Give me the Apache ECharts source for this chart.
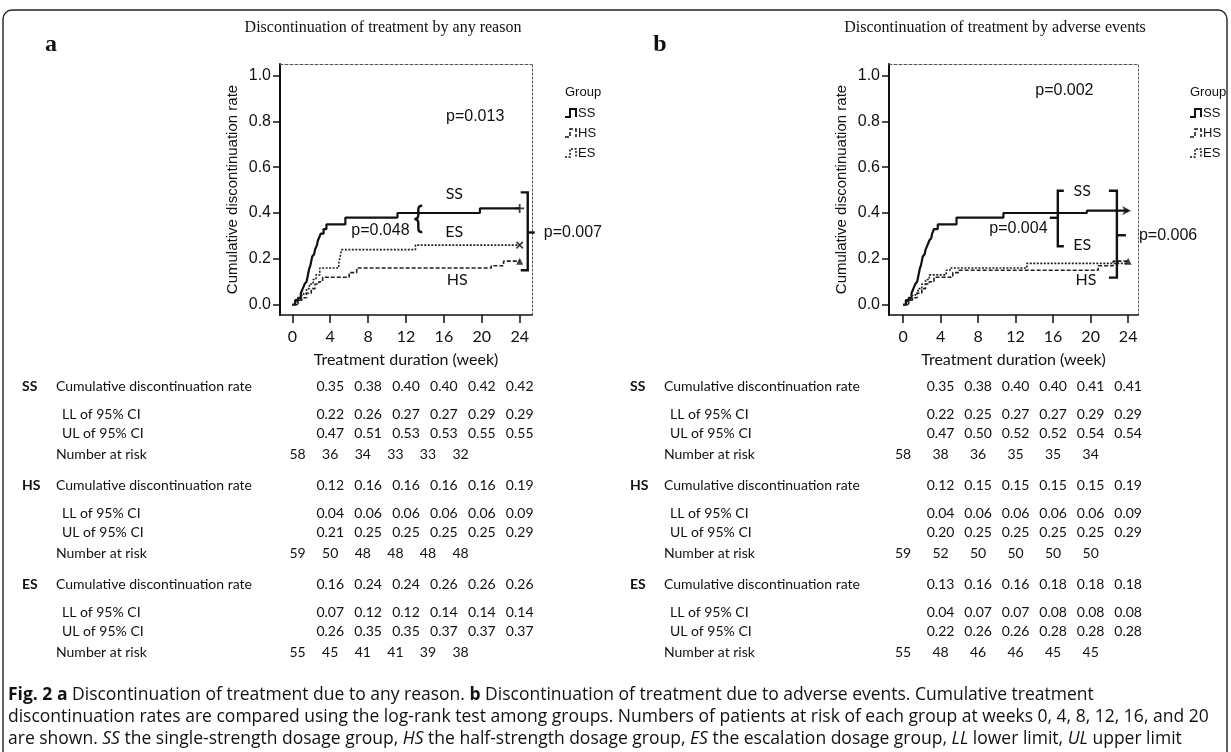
<!DOCTYPE html>
<html>
<head>
<meta charset="utf-8">
<script src="https://cdn.jsdelivr.net/npm/echarts@6/dist/echarts.min.js"></script>
<style>
html,body{margin:0;padding:0;background:#fff;}
#c{width:1231px;height:752px;}
</style>
</head>
<body>
<div id="c"></div>
<script>
// ---- axes ----
const weekTicks = [0, 4, 8, 12, 16, 20, 24];
const tableWeeks = [4, 8, 12, 16, 20, 24];
const riskWeeks = [0, 4, 8, 12, 16, 20];
const rateTicks = [0, 0.2, 0.4, 0.6, 0.8, 1.0];
const groups = ['SS', 'HS', 'ES'];
const rowLabels = ['Cumulative discontinuation rate', 'LL of 95% CI', 'UL of 95% CI', 'Number at risk'];

// ---- cumulative discontinuation, any reason: [week, rate] ----
const anySS = [[0,0],[0.3,0.02],[0.6,0.03],[0.9,0.05],[1.1,0.07],[1.3,0.09],[1.5,0.10],[1.6,0.12],[1.7,0.14],[1.8,0.16],[1.9,0.17],[2.0,0.19],[2.1,0.21],[2.3,0.22],[2.4,0.24],[2.6,0.26],[2.7,0.28],[2.8,0.29],[3.0,0.31],[3.3,0.33],[3.6,0.35],[5.6,0.38],[11.1,0.40],[19.8,0.42],[24,0.42]];
const anyHS = [[0,0],[0.6,0.02],[1.0,0.03],[1.5,0.05],[2.0,0.07],[2.4,0.09],[2.8,0.10],[3.2,0.12],[6.0,0.14],[6.8,0.16],[21.0,0.17],[22.3,0.19],[24,0.19]];
const anyES = [[0,0],[0.5,0.02],[0.9,0.04],[1.2,0.05],[1.5,0.07],[1.8,0.09],[2.2,0.11],[2.5,0.13],[2.9,0.16],[4.9,0.18],[5.0,0.20],[5.1,0.22],[5.2,0.24],[13.0,0.26],[24,0.26]];

// ---- cumulative discontinuation, adverse events: [week, rate] ----
const aeSS = [[0,0],[0.3,0.02],[0.6,0.03],[0.9,0.05],[1.1,0.07],[1.3,0.09],[1.5,0.10],[1.6,0.12],[1.7,0.14],[1.8,0.16],[1.9,0.17],[2.0,0.19],[2.1,0.21],[2.3,0.22],[2.4,0.24],[2.6,0.26],[2.8,0.28],[3.0,0.29],[3.1,0.31],[3.3,0.33],[3.7,0.35],[5.7,0.38],[10.7,0.40],[19.6,0.41],[24,0.41]];
const aeHS = [[0,0],[0.6,0.02],[1.0,0.03],[1.5,0.05],[2.0,0.07],[2.4,0.09],[2.8,0.10],[3.3,0.12],[5.3,0.14],[6.0,0.15],[20.8,0.17],[22.4,0.19],[24,0.19]];
const aeES = [[0,0],[0.5,0.02],[0.9,0.04],[1.3,0.05],[1.6,0.07],[2.0,0.09],[2.4,0.11],[2.8,0.13],[4.6,0.15],[5.0,0.16],[13.2,0.18],[24,0.18]];

// ---- tables, rows in group order SS, HS, ES ----
const anyRate = [[0.35,0.38,0.40,0.40,0.42,0.42],[0.12,0.16,0.16,0.16,0.16,0.19],[0.16,0.24,0.24,0.26,0.26,0.26]];
const anyLL   = [[0.22,0.26,0.27,0.27,0.29,0.29],[0.04,0.06,0.06,0.06,0.06,0.09],[0.07,0.12,0.12,0.14,0.14,0.14]];
const anyUL   = [[0.47,0.51,0.53,0.53,0.55,0.55],[0.21,0.25,0.25,0.25,0.25,0.29],[0.26,0.35,0.35,0.37,0.37,0.37]];
const anyRisk = [[58,36,34,33,33,32],[59,50,48,48,48,48],[55,45,41,41,39,38]];
const aeRate  = [[0.35,0.38,0.40,0.40,0.41,0.41],[0.12,0.15,0.15,0.15,0.15,0.19],[0.13,0.16,0.16,0.18,0.18,0.18]];
const aeLL    = [[0.22,0.25,0.27,0.27,0.29,0.29],[0.04,0.06,0.06,0.06,0.06,0.09],[0.04,0.07,0.07,0.08,0.08,0.08]];
const aeUL    = [[0.47,0.50,0.52,0.52,0.54,0.54],[0.20,0.25,0.25,0.25,0.25,0.29],[0.22,0.26,0.26,0.28,0.28,0.28]];
const aeRisk  = [[58,38,36,35,35,34],[59,52,50,50,50,50],[55,48,46,46,45,45]];

const INK = '#111';
const SANS = 'Liberation Sans';
const HUM = 'Lato';
const CAP = 'Open Sans';
const SERIF = 'Liberation Serif';

const panels = [
  {grid: {left: 280, top: 64, width: 252, height: 251}, xr: [-1.3, 25.3],
   curves: [anySS, anyHS, anyES], rate: anyRate, ll: anyLL, ul: anyUL, risk: anyRisk,
   title: 'Discontinuation of treatment by any reason', titleX: 383, letter: 'a', letterX: 51,
   legendX: 565, tableX: 0, riskPitch: 0.86,
   notes: {
     texts: [
       {t: 'p=0.013', at: [19.3, 0.82], f: SANS, s: 16},
       {t: 'SS', at: [17.1, 0.483], f: HUM, s: 16},
       {t: 'ES', at: [17.1, 0.316], f: HUM, s: 16},
       {t: 'HS', at: [17.4, 0.11], f: HUM, s: 16},
       {t: 'p=0.048', at: [9.3, 0.323], f: SANS, s: 16}
     ],
     brackets: [{x: 24.85, y1: 0.49, y2: 0.15, tick: -7, mid: 0.315, midTick: 7, label: 'p=0.007', gap: 9}],
     braces: [{x: 13.3, y1: 0.432, y2: 0.316}]
   },
   ends: [{sym: 'plus'}, {sym: 'triangle'}, {sym: 'cross'}]},
  {grid: {left: 889, top: 64, width: 249, height: 251}, xr: [-1.5, 25.05],
   curves: [aeSS, aeHS, aeES], rate: aeRate, ll: aeLL, ul: aeUL, risk: aeRisk,
   title: 'Discontinuation of treatment by adverse events', titleX: 995, letter: 'b', letterX: 660,
   legendX: 1190, tableX: 608, riskPitch: 1,
   notes: {
     texts: [
       {t: 'p=0.002', at: [17.2, 0.935], f: SANS, s: 16},
       {t: 'SS', at: [19.1, 0.497], f: HUM, s: 16},
       {t: 'ES', at: [19.1, 0.26], f: HUM, s: 16},
       {t: 'HS', at: [19.5, 0.11], f: HUM, s: 16},
       {t: 'p=0.004', at: [12.3, 0.33], f: SANS, s: 16}
     ],
     brackets: [
       {x: 16.5, y1: 0.497, y2: 0.255, tick: 6, mid: 0.379, midTick: -8},
       {x: 22.8, y1: 0.497, y2: 0.118, tick: -8, mid: 0.303, midTick: 9, label: 'p=0.006', gap: 13}
     ],
     braces: []
   },
   ends: [{sym: 'arrow'}, {sym: 'triangle'}, null]}
];

const yr = [-0.045, 1.05];
const lineStyles = [
  {color: INK, width: 2.2, type: 'solid'},
  {color: '#222', width: 1.6, type: [4, 2]},
  {color: '#222', width: 1.6, type: [2, 1.5]}
];
const endSymbols = {
  plus: 'path://M4,0h2v4h4v2h-4v4h-2v-4h-4v-2h4z',
  cross: 'path://M4,0h2v4h4v2h-4v4h-2v-4h-4v-2h4z',
  triangle: 'triangle',
  arrow: 'arrow'
};

const xAxes = [], yAxes = [], series = [];
panels.forEach((p, i) => {
  xAxes.push({
    type: 'value', gridIndex: i, min: p.xr[0], max: p.xr[1], position: 'bottom',
    axisLine: {show: true, onZero: false, lineStyle: {color: INK, width: 1.5}},
    axisTick: {show: true, length: 8, customValues: weekTicks, lineStyle: {color: INK, width: 1.5}},
    axisLabel: {customValues: weekTicks, margin: 14, fontFamily: HUM, fontSize: 16, color: INK},
    splitLine: {show: false},
    name: 'Treatment duration (week)', nameLocation: 'middle', nameGap: 37,
    nameTextStyle: {fontFamily: HUM, fontSize: 16, color: INK}
  });
  xAxes.push({
    type: 'value', gridIndex: i, min: p.xr[0], max: p.xr[1], position: 'top',
    axisLine: {show: true, onZero: false, lineStyle: {color: '#555', width: 1, type: [3, 2]}},
    axisTick: {show: false}, axisLabel: {show: false}, splitLine: {show: false}
  });
  yAxes.push({
    type: 'value', gridIndex: i, min: yr[0], max: yr[1], position: 'left',
    axisLine: {show: true, onZero: false, lineStyle: {color: INK, width: 2}},
    axisTick: {show: true, length: 7, customValues: rateTicks, lineStyle: {color: INK, width: 1.5}},
    axisLabel: {customValues: rateTicks, margin: 9, fontFamily: SANS, fontSize: 16, color: INK,
                formatter: v => v.toFixed(1)},
    splitLine: {show: false},
    name: 'Cumulative discontinuation rate', nameLocation: 'middle', nameGap: 40,
    nameTextStyle: {fontFamily: SANS, fontSize: 15, color: INK}
  });
  yAxes.push({
    type: 'value', gridIndex: i, min: yr[0], max: yr[1], position: 'right',
    axisLine: {show: true, onZero: false, lineStyle: {color: '#555', width: 1, type: [2, 2]}},
    axisTick: {show: false}, axisLabel: {show: false}, splitLine: {show: false}
  });
  const xi = i * 2, yi = i * 2;
  p.curves.forEach((c, g) => {
    series.push({
      type: 'line', name: groups[g], xAxisIndex: xi, yAxisIndex: yi, step: 'end',
      data: c, symbol: 'none', lineStyle: lineStyles[g], z: 3, silent: true
    });
    const e = p.ends[g];
    if (e) {
      const last = c[c.length - 1];
      series.push({
        type: 'scatter', xAxisIndex: xi, yAxisIndex: yi, data: [last], silent: true, z: 4,
        symbol: endSymbols[e.sym],
        symbolSize: e.sym === 'arrow' ? [7, 9] : (e.sym === 'triangle' ? 7 : 9),
        symbolRotate: e.sym === 'cross' ? 45 : (e.sym === 'arrow' ? -90 : 0),
        symbolOffset: e.sym === 'arrow' ? [3, 0] : [0, 0],
        itemStyle: {color: INK}
      });
    }
  });
  // annotations: p-values, group labels, brackets
  const notes = p.notes;
  series.push({
    type: 'custom', xAxisIndex: xi, yAxisIndex: yi, data: [[0, 0]], clip: false, silent: true, z: 6,
    renderItem(params, api) {
      const kids = [];
      const stroke = {stroke: INK, lineWidth: 2.4, fill: null};
      notes.texts.forEach(t => {
        const pt = api.coord(t.at);
        kids.push({type: 'text', x: pt[0], y: pt[1], style: {
          text: t.t, fontFamily: t.f, fontSize: t.s, fill: INK,
          align: 'center', verticalAlign: 'middle', textAlign: 'center', textVerticalAlign: 'middle'}});
      });
      notes.brackets.forEach(b => {
        const top = api.coord([b.x, b.y1]), bot = api.coord([b.x, b.y2]), m = api.coord([b.x, b.mid]);
        kids.push({type: 'polyline', shape: {points: [[top[0] + b.tick, top[1]], top, bot, [bot[0] + b.tick, bot[1]]]}, style: stroke});
        kids.push({type: 'line', shape: {x1: m[0], y1: m[1], x2: m[0] + b.midTick, y2: m[1]}, style: stroke});
        if (b.label) {
          kids.push({type: 'text', x: m[0] + b.midTick + b.gap, y: m[1], style: {
            text: b.label, fontFamily: SANS, fontSize: 16, fill: INK,
            align: 'left', verticalAlign: 'middle', textAlign: 'left', textVerticalAlign: 'middle'}});
        }
      });
      notes.braces.forEach(b => {
        const top = api.coord([b.x, b.y1]), bot = api.coord([b.x, b.y2]);
        const x = top[0], y0 = top[1], y1 = bot[1], ym = (y0 + y1) / 2, w = 4;
        const d = `M${x + w},${y0} Q${x},${y0} ${x},${y0 + w} L${x},${ym - w} Q${x},${ym} ${x - w},${ym} ` +
                  `Q${x},${ym} ${x},${ym + w} L${x},${y1 - w} Q${x},${y1} ${x + w},${y1}`;
        kids.push({type: 'path', shape: {pathData: d}, style: stroke});
      });
      return {type: 'group', children: kids};
    }
  });
});

const chart = echarts.init(document.getElementById('c'));
chart.setOption({
  animation: false,
  backgroundColor: '#fff',
  grid: panels.map(p => Object.assign({containLabel: false}, p.grid)),
  xAxis: xAxes,
  yAxis: yAxes,
  series: series
});

// ---- text furniture: frame, titles, legends, tables, caption ----
function txt(x, y, text, font, align, extra) {
  return {type: 'text', x: x, y: y, silent: true, style: Object.assign({
    text: text, font: font, fill: INK,
    align: align || 'left', verticalAlign: 'middle',
    textAlign: align || 'left', textVerticalAlign: 'middle'
  }, extra || {})};
}

const g = [];
g.push({type: 'rect', silent: true, shape: {x: 3, y: 10, width: 1224, height: 760, r: 9},
        style: {fill: null, stroke: '#222', lineWidth: 1.4}});

const blockY = [386, 485, 584];
const rowDy = [0, 28.5, 47, 68];

panels.forEach((p, i) => {
  const xi = i * 2;
  g.push(txt(p.titleX, 28, p.title, '16px ' + SERIF, 'center'));
  g.push(txt(p.letterX, 45, p.letter, 'bold 24px ' + SERIF, 'center'));

  // legend
  const lx = p.legendX;
  g.push(txt(lx, 92, 'Group', '13px ' + SANS, 'left'));
  groups.forEach((name, k) => {
    const y = 113 + k * 20;
    const ls = lineStyles[k];
    g.push({type: 'polyline', silent: true,
      shape: {points: [[lx, y + 4], [lx + 5, y + 4], [lx + 5, y - 4], [lx + 11, y - 4], [lx + 11, y + 4]]},
      style: {stroke: INK, lineWidth: k === 0 ? 2 : 1.5, fill: null, lineDash: k === 0 ? null : ls.type}});
    g.push(txt(lx + 13, y, name, '13px ' + SANS, 'left'));
  });

  // table of rates and numbers at risk
  const rateX = tableWeeks.map(w => chart.convertToPixel({xAxisIndex: xi}, w));
  const x0 = chart.convertToPixel({xAxisIndex: xi}, 0);
  const step = (rateX[0] - x0) * p.riskPitch;
  const riskX = riskWeeks.map((w, k) => rateX[0] + (k - 1) * step);
  const tx = p.tableX;
  const rows = [p.rate, p.ll, p.ul];
  groups.forEach((name, k) => {
    const by = blockY[k];
    g.push(txt(tx + 22, by, name, 'bold 14px ' + HUM, 'left'));
    g.push(txt(tx + 56, by + rowDy[0], rowLabels[0], '14px ' + HUM, 'left'));
    g.push(txt(tx + 62, by + rowDy[1], rowLabels[1], '14px ' + HUM, 'left'));
    g.push(txt(tx + 62, by + rowDy[2], rowLabels[2], '14px ' + HUM, 'left'));
    g.push(txt(tx + 56, by + rowDy[3], rowLabels[3], '14px ' + HUM, 'left'));
    rows.forEach((vals, r) => {
      vals[k].forEach((v, c) => g.push(txt(rateX[c], by + rowDy[r], v.toFixed(2), '14px ' + HUM, 'center')));
    });
    p.risk[k].forEach((v, c) => g.push(txt(riskX[c], by + rowDy[3], String(v), '14px ' + HUM, 'center')));
  });
});

// caption
const CAP_SIZE = 17.5;
const capRich = {
  b: {fontFamily: CAP, fontSize: CAP_SIZE, fontWeight: 'bold', fill: INK},
  i: {fontFamily: CAP, fontSize: CAP_SIZE, fontStyle: 'italic', fill: INK},
  n: {fontFamily: CAP, fontSize: CAP_SIZE, fill: INK}
};
const capLines = [
  '{b|Fig. 2 a}{n| Discontinuation of treatment due to any reason. }{b|b}{n| Discontinuation of treatment due to adverse events. Cumulative treatment}',
  '{n|discontinuation rates are compared using the log-rank test among groups. Numbers of patients at risk of each group at weeks 0, 4, 8, 12, 16, and 20}',
  '{n|are shown. }{i|SS}{n| the single-strength dosage group, }{i|HS}{n| the half-strength dosage group, }{i|ES}{n| the escalation dosage group, }{i|LL}{n| lower limit, }{i|UL}{n| upper limit}'
];
capLines.forEach((line, k) => {
  g.push(txt(8, 695 + k * 22, line, CAP_SIZE + 'px ' + CAP, 'left', {rich: capRich}));
});

chart.setOption({graphic: {elements: g}});
</script>
</body>
</html>
